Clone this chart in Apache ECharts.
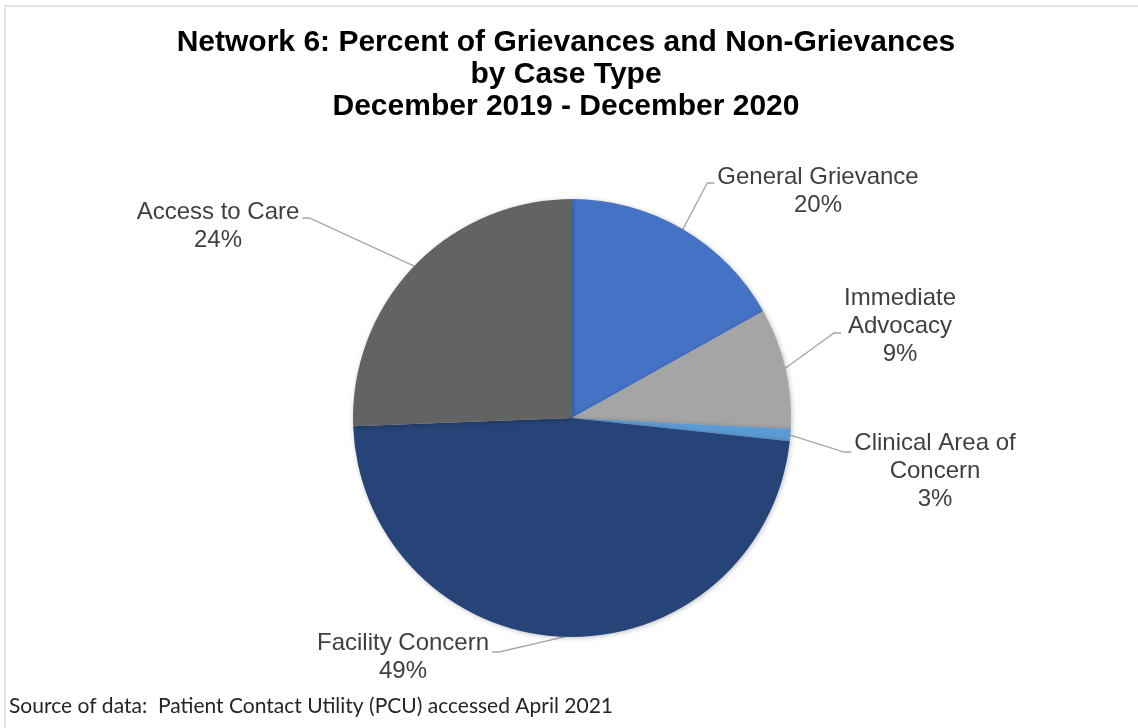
<!DOCTYPE html>
<html>
<head>
<meta charset="utf-8">
<script src="https://cdn.jsdelivr.net/npm/echarts@6/dist/echarts.min.js"></script>
<style>
  html, body { margin: 0; padding: 0; background: #ffffff; }
  #chart { width: 1138px; height: 728px; }
</style>
</head>
<body>
<div id="chart"></div>
<script>
// ---- data ----
const categories = ['General Grievance', 'Immediate Advocacy', 'Clinical Area of Concern', 'Facility Concern', 'Access to Care'];
const labelLines = ['General Grievance', 'Immediate\nAdvocacy', 'Clinical Area of\nConcern', 'Facility Concern', 'Access to Care'];
// slice sizes as drawn in the picture
const sliceValues = [16.9, 8.9, 0.9, 47.7, 25.6];
// percentages as printed on the labels
const printedPercents = ['20%', '9%', '3%', '49%', '24%'];
const colors = ['#4472C4', '#A5A5A5', '#5B9BD5', '#264478', '#636363'];

const titleText = 'Network 6: Percent of Grievances and Non-Grievances\nby Case Type\nDecember 2019 - December 2020';
const sourceText = 'Source of data:  Patient Contact Utility (PCU) accessed April 2021';

// ---- label layout (text block centre x, block top y, leader join y, side) ----
const labelPlacement = [
  { cx: 818, top: 163, joinY: 183, side: 1 },
  { cx: 900, top: 284, joinY: 333, side: 1 },
  { cx: 935, top: 429, joinY: 452, side: 1 },
  { cx: 403, top: 629, joinY: 652, side: -1 },
  { cx: 218, top: 198, joinY: 218, side: -1 }
];

const chart = echarts.init(document.getElementById('chart'), null, { renderer: 'canvas' });

const option = {
  animation: false,
  backgroundColor: '#ffffff',
  graphic: [
    { type: 'line', shape: { x1: 4, y1: 6, x2: 1138, y2: 6 }, style: { stroke: '#e4e4e4', lineWidth: 2 }, silent: true },
    { type: 'line', shape: { x1: 5, y1: 5, x2: 5, y2: 728 }, style: { stroke: '#e4e4e4', lineWidth: 2 }, silent: true },
    {
      type: 'text', x: 566, y: 27, silent: true,
      style: {
        text: titleText, align: 'center', verticalAlign: 'top',
        fontFamily: 'Liberation Sans', fontWeight: 'bold', fontSize: 30, lineHeight: 32, fill: '#000000'
      }
    },
    {
      type: 'text', x: 9, y: 696, silent: true,
      style: { text: sourceText, fontFamily: 'Lato', fontSize: 21, fill: '#262626', verticalAlign: 'top' }
    }
  ],
  series: [{
    type: 'pie',
    center: [572, 418],
    radius: 219,
    startAngle: 90,
    clockwise: true,
    avoidLabelOverlap: false,
    emphasis: { disabled: true },
    itemStyle: {
      borderWidth: 0,
      shadowBlur: 5,
      shadowColor: 'rgba(0,0,0,0.25)',
      shadowOffsetX: 1,
      shadowOffsetY: 1
    },
    label: {
      show: true,
      position: 'outside',
      fontFamily: 'Liberation Sans',
      fontSize: 24,
      lineHeight: 28,
      color: '#404040',
      align: 'center',
      formatter: function (p) { return labelLines[p.dataIndex] + '\n' + printedPercents[p.dataIndex]; }
    },
    labelLine: {
      show: true,
      length: 20,
      length2: 8,
      lineStyle: { color: '#a6a6a6', width: 1.3 }
    },
    labelLayout: function (params) {
      const lp = labelPlacement[params.dataIndex];
      const w = params.labelRect.width;
      const endX = lp.cx - lp.side * (w / 2 + 3);
      const elbowX = endX - lp.side * 7;
      const pts = params.labelLinePoints;
      const start = pts && pts[0] ? pts[0] : [endX, lp.joinY];
      return {
        x: lp.cx,
        y: lp.top,
        align: 'center',
        verticalAlign: 'top',
        labelLinePoints: [start, [elbowX, lp.joinY], [endX, lp.joinY]]
      };
    },
    data: categories.map(function (c, i) {
      return { name: c, value: sliceValues[i], itemStyle: { color: colors[i] } };
    })
  }]
};

chart.setOption(option);
</script>
</body>
</html>
